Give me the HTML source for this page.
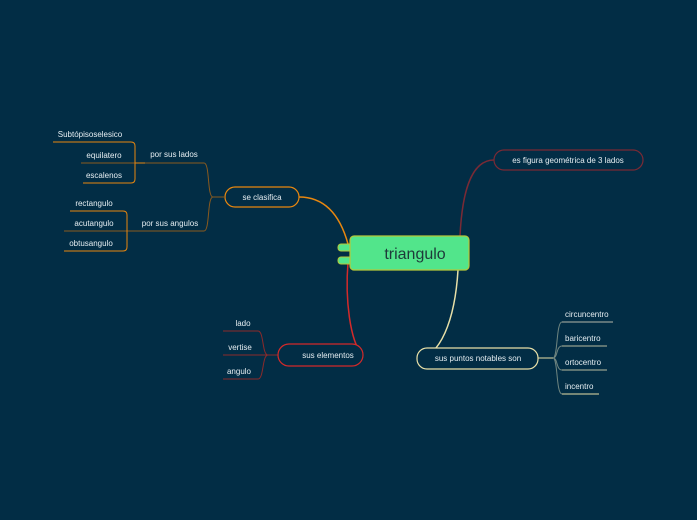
<!DOCTYPE html>
<html><head><meta charset="utf-8"><style>
html,body{margin:0;padding:0;background:#022d45;}
svg{display:block}
text{font-family:"Liberation Sans",sans-serif;fill:#e6eef2;font-size:8px}
</style></head><body>
<svg width="697" height="520" viewBox="0 0 697 520">
<rect width="697" height="520" fill="#022d45"/>
<!-- main connectors -->
<path d="M348,244 C340,215 325,197 299,197" fill="none" stroke="#e8870f" stroke-width="1.5"/>
<path d="M348,262 C345,300 350,340 362,355" fill="none" stroke="#d42a2a" stroke-width="1.5"/>
<path d="M460,236 C462,195 470,160 494,160" fill="none" stroke="#7a2a35" stroke-width="1.5"/>
<path d="M458,270 C455,320 440,358 417,358" fill="none" stroke="#e8e0a8" stroke-width="1.5"/>
<!-- se clasifica -->
<rect x="225" y="187" width="74" height="20" rx="10" fill="#022d45" stroke="#e8870f" stroke-width="1.2"/>
<text x="262" y="200" text-anchor="middle">se clasifica</text>
<path d="M225,197 L213,197 C207,197 210,163 204,163 L81,163" fill="none" stroke="#8a5a1e" stroke-width="1"/>
<path d="M213,197 C207,197 210,231 204,231 L64,231" fill="none" stroke="#8a5a1e" stroke-width="1"/>
<path d="M53,142 L131,142 Q135,142 135,146 L135,179 Q135,183 131,183 L83,183 M135,163 L145,163" fill="none" stroke="#e8870f" stroke-width="1"/>
<path d="M70,211 L123,211 Q127,211 127,215 L127,247 Q127,251 123,251 L64,251" fill="none" stroke="#e8870f" stroke-width="1"/>
<text x="174" y="157" text-anchor="middle">por sus lados</text>
<text x="170" y="226" text-anchor="middle">por sus angulos</text>
<text x="90" y="137" text-anchor="middle">Subtópisoselesico</text>
<text x="104" y="158" text-anchor="middle">equilatero</text>
<text x="104" y="178" text-anchor="middle">escalenos</text>
<text x="94" y="206" text-anchor="middle">rectangulo</text>
<text x="94" y="226" text-anchor="middle">acutangulo</text>
<text x="91" y="246" text-anchor="middle">obtusangulo</text>
<!-- sus elementos -->
<path d="M278,355 L268,355 C262,355 264,331 258,331 L223,331 M268,355 L223,355 M268,355 C262,355 264,379 258,379 L223,379" fill="none" stroke="#8c2a2a" stroke-width="1"/>
<rect x="278" y="344" width="85" height="22" rx="11" fill="#022d45" stroke="#d42a2a" stroke-width="1.2"/>
<text x="328" y="358" text-anchor="middle">sus elementos</text>
<text x="243" y="326" text-anchor="middle">lado</text>
<text x="240" y="350" text-anchor="middle">vertise</text>
<text x="239" y="374" text-anchor="middle">angulo</text>
<!-- es figura -->
<rect x="494" y="150" width="149" height="20" rx="10" fill="#022d45" stroke="#7a2a35" stroke-width="1.2"/>
<text x="568" y="163" text-anchor="middle">es figura geométrica de 3 lados</text>
<!-- puntos notables -->
<rect x="417" y="348" width="121" height="21" rx="10" fill="#022d45" stroke="#e8e0a8" stroke-width="1.2"/>
<text x="478" y="361" text-anchor="middle">sus puntos notables son</text>
<path d="M538,358 L553,358" stroke="#e8e0a8" stroke-width="1"/>
<path d="M553,358 C558,358 556,322 562,322 M553,358 C558,358 556,346 562,346 M553,358 C558,358 556,370 562,370 M553,358 C558,358 556,394 562,394" fill="none" stroke="#6f8580" stroke-width="1"/>
<path d="M562,322 L613,322" stroke="#7a8a88" stroke-width="1.5"/>
<path d="M562,346 L607,346 M562,370 L607,370" stroke="#b8bca0" stroke-width="1"/>
<path d="M562,394 L599,394" stroke="#e8e0a8" stroke-width="1"/>
<text x="565" y="317">circuncentro</text>
<text x="565" y="341">baricentro</text>
<text x="565" y="365">ortocentro</text>
<text x="565" y="389">incentro</text>
<!-- central -->
<rect x="338" y="244" width="24" height="7" rx="3" fill="#52e58b" stroke="#b5c83a" stroke-width="1"/>
<rect x="338" y="257" width="24" height="7" rx="3" fill="#52e58b" stroke="#b5c83a" stroke-width="1"/>
<rect x="350" y="236" width="119" height="34" rx="4" fill="#52e58b" stroke="#b5c83a" stroke-width="1.2"/>
<text x="415" y="259" text-anchor="middle" style="font-size:16px;fill:#1e3a3a">triangulo</text>
</svg>
</body></html>
